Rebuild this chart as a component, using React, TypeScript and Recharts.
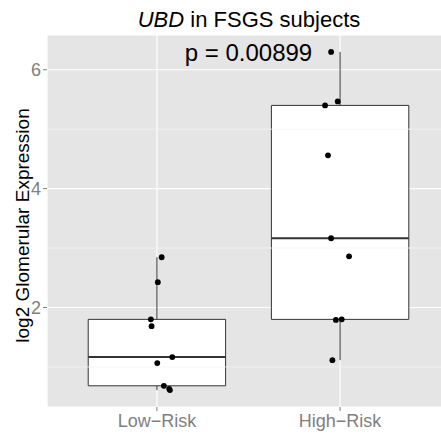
import {
  ComposedChart,
  Scatter,
  XAxis,
  YAxis,
  CartesianGrid,
  ReferenceArea,
  ReferenceLine,
  ReferenceDot,
} from 'recharts';

const categories = ['Low\u2212Risk', 'High\u2212Risk'];
const lowRiskValues = [2.845, 2.425, 1.8, 1.686, 1.165, 1.064, 0.682, 0.632, 0.61];
const lowRiskJitter = [0.026, 0.005, -0.033, -0.029, 0.084, 0.002, 0.038, 0.067, 0.071];
const highRiskValues = [6.3, 5.467, 5.4, 4.56, 3.165, 2.86, 1.8, 1.79, 1.114];
const highRiskJitter = [-0.049, -0.013, -0.082, -0.066, -0.049, 0.049, 0.009, -0.023, -0.042];
const yTicks = [2, 4, 6];
const yMinorTicks = [1, 3, 5];
const pValue = 0.00899;

const FONT = '"Liberation Sans", Arial, Helvetica, sans-serif';
const W = 450;
const H = 437;

function quantile(sorted: number[], p: number): number {
  const pos = (sorted.length - 1) * p;
  const lo = Math.floor(pos);
  const hi = Math.ceil(pos);
  return sorted[lo] + (sorted[hi] - sorted[lo]) * (pos - lo);
}

function boxStats(values: number[]) {
  const s = [...values].sort((a, b) => a - b);
  const q1 = quantile(s, 0.25);
  const med = quantile(s, 0.5);
  const q3 = quantile(s, 0.75);
  const iqr = q3 - q1;
  const lo = Math.min(...s.filter((v) => v >= q1 - 1.5 * iqr));
  const hi = Math.max(...s.filter((v) => v <= q3 + 1.5 * iqr));
  return { q1, med, q3, lo, hi };
}

const groups = [
  { values: lowRiskValues, jitter: lowRiskJitter },
  { values: highRiskValues, jitter: highRiskJitter },
];

const points = groups.flatMap((g, i) =>
  g.values.map((v, j) => ({ x: i + 1 + g.jitter[j], y: v }))
);
const stats = groups.map((g) => boxStats(g.values));

const allValues = [...lowRiskValues, ...highRiskValues];
const dataMin = Math.min(...allValues);
const dataMax = Math.max(...allValues);
const pad = (dataMax - dataMin) * 0.05;
const yDomain = [dataMin - pad, dataMax + pad];

const BOX_HALF = 0.375;

export default function App() {
  return (
    <div
      style={{
        position: 'absolute',
        left: 0,
        top: 0,
        width: 441,
        height: 437,
        overflow: 'hidden',
        background: '#fff',
        fontFamily: FONT,
      }}
    >
      <ComposedChart width={W} height={H} margin={{ top: 35, right: 0, bottom: 0, left: 0 }}>
        <CartesianGrid fill="#e5e5e5" stroke="#ffffff" strokeWidth={1.2} />
        {yMinorTicks.map((t) => (
          <ReferenceLine key={t} y={t} stroke="#f2f2f2" strokeWidth={0.8} />
        ))}
        <XAxis
          dataKey="x"
          type="number"
          domain={[0.4, 2.6]}
          ticks={[1, 2]}
          tickFormatter={(v) => categories[Number(v) - 1]}
          axisLine={false}
          tickSize={4}
          tickMargin={3}
          tickLine={{ stroke: '#7f7f7f' }}
          tick={{ fill: '#7f7f7f', fontSize: 18, fontFamily: FONT }}
          height={30}
          allowDataOverflow
        />
        <YAxis
          dataKey="y"
          type="number"
          domain={yDomain}
          ticks={yTicks}
          axisLine={false}
          tickSize={4}
          tickMargin={2}
          tickLine={{ stroke: '#7f7f7f' }}
          tick={{ fill: '#7f7f7f', fontSize: 18, fontFamily: FONT }}
          width={47}
          allowDataOverflow
        />
        {stats.map((s, i) => (
          <ReferenceLine
            key={'wu' + i}
            segment={[
              { x: i + 1, y: s.q3 },
              { x: i + 1, y: s.hi },
            ]}
            stroke="#333"
            strokeWidth={1}
          />
        ))}
        {stats.map((s, i) => (
          <ReferenceLine
            key={'wl' + i}
            segment={[
              { x: i + 1, y: s.lo },
              { x: i + 1, y: s.q1 },
            ]}
            stroke="#333"
            strokeWidth={1}
          />
        ))}
        {stats.map((s, i) => (
          <ReferenceArea
            key={'box' + i}
            x1={i + 1 - BOX_HALF}
            x2={i + 1 + BOX_HALF}
            y1={s.q1}
            y2={s.q3}
            fill="#ffffff"
            fillOpacity={1}
            stroke="#333"
            strokeWidth={1}
          />
        ))}
        {stats.map((s, i) => (
          <ReferenceLine
            key={'med' + i}
            segment={[
              { x: i + 1 - BOX_HALF, y: s.med },
              { x: i + 1 + BOX_HALF, y: s.med },
            ]}
            stroke="#333"
            strokeWidth={2}
          />
        ))}
        <ReferenceDot
          x={1.5}
          y={dataMax}
          r={0}
          shape={(p: any) => (
            <text
              x={p.cx}
              y={p.cy + 9}
              textAnchor="middle"
              fontSize={24}
              fontFamily={FONT}
              fill="#000"
            >
              {'p = ' + pValue}
            </text>
          )}
        />
        <Scatter
          data={points}
          isAnimationActive={false}
          shape={(p: any) => <circle cx={p.cx} cy={p.cy} r={2.9} fill="#000" />}
        />
      </ComposedChart>
      <svg
        width={441}
        height={437}
        style={{ position: 'absolute', left: 0, top: 0, pointerEvents: 'none' }}
      >
        <text x={249} y={26.5} textAnchor="middle" fontSize={22} fontFamily={FONT} fill="#000">
          <tspan fontStyle="italic">UBD</tspan> in FSGS subjects
        </text>
        <text
          x={28.5}
          y={225.5}
          transform="rotate(-90, 28.5, 225.5)"
          textAnchor="middle"
          fontSize={19}
          fontFamily={FONT}
          fill="#000"
        >
          log2 Glomerular Expression
        </text>
      </svg>
    </div>
  );
}
